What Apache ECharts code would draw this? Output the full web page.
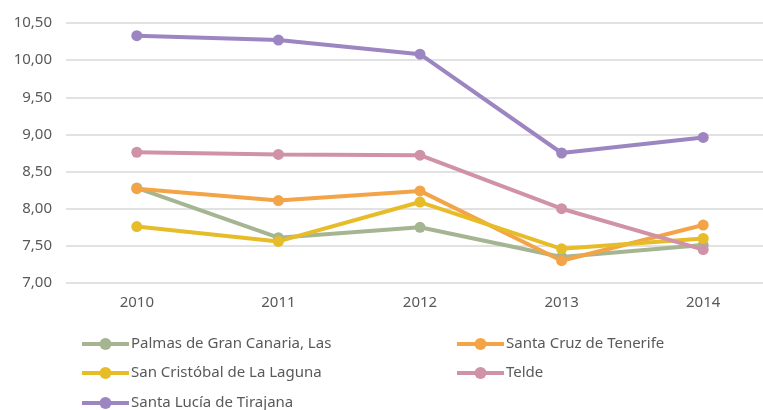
<!DOCTYPE html>
<html>
<head>
<meta charset="utf-8">
<script src="https://cdn.jsdelivr.net/npm/echarts@6/dist/echarts.min.js"></script>
<style>
  html, body { margin: 0; padding: 0; background: #fff; }
  #chart { width: 763px; height: 410px; }
</style>
</head>
<body>
<div id="chart"></div>
<script>
  // values
  var years = ["2010", "2011", "2012", "2013", "2014"];
  var names = [
    "Palmas de Gran Canaria, Las",
    "Santa Cruz de Tenerife",
    "San Cristóbal de La Laguna",
    "Telde",
    "Santa Lucía de Tirajana"
  ];
  var palmas = [8.28, 7.61, 7.75, 7.35, 7.51];
  var santaCruz = [8.27, 8.11, 8.24, 7.30, 7.78];
  var sanCristobal = [7.76, 7.56, 8.09, 7.46, 7.60];
  var telde = [8.76, 8.73, 8.72, 8.00, 7.45];
  var santaLucia = [10.33, 10.27, 10.08, 8.75, 8.96];
  var colors = ["#A5B592", "#F3A447", "#E7BC29", "#D092A7", "#9C85C0"];

  var values = [palmas, santaCruz, sanCristobal, telde, santaLucia];
  var font = "'Noto Sans', 'DejaVu Sans', sans-serif";
  var grey = "#595959";

  // legend slots: two columns, three rows (Excel order)
  var legendPos = [[80, 336], [455, 336], [80, 365], [455, 365], [80, 395]];

  var chart = echarts.init(document.getElementById("chart"));

  var series = names.map(function (n, i) {
    return {
      name: n,
      type: "line",
      data: values[i],
      symbol: "circle",
      symbolSize: 11,
      color: colors[i],
      lineStyle: { width: 4, color: colors[i] },
      itemStyle: { color: colors[i] },
      emphasis: { disabled: true },
      animation: false
    };
  });

  var legends = names.map(function (n, i) {
    return {
      data: [n],
      left: legendPos[i][0],
      top: legendPos[i][1],
      padding: 0,
      itemWidth: 47,
      itemHeight: 15,
      selectedMode: false,
      lineStyle: { width: 4 },
      textStyle: {
        fontFamily: font, fontSize: 15, color: grey,
        lineHeight: 16, padding: [0, 0, 0, -3]
      }
    };
  });

  chart.setOption({
    animation: false,
    legend: legends,
    grid: {
      left: 66, top: 23, width: 708, height: 260,
      containLabel: false, outerBoundsMode: "none"
    },
    xAxis: {
      type: "category",
      data: years,
      boundaryGap: true,
      axisLine: { show: false },
      axisTick: { show: false },
      axisLabel: { color: grey, fontFamily: font, fontSize: 15, margin: 12 }
    },
    yAxis: {
      type: "value",
      min: 7, max: 10.5, interval: 0.5,
      axisLine: { show: false },
      axisTick: { show: false },
      splitLine: { lineStyle: { color: "#D9D9D9", width: 1.5 } },
      axisLabel: {
        color: grey, fontFamily: font, fontSize: 15, margin: 14,
        formatter: function (v) { return v.toFixed(2).replace(".", ","); }
      }
    },
    series: series
  });
</script>
</body>
</html>
